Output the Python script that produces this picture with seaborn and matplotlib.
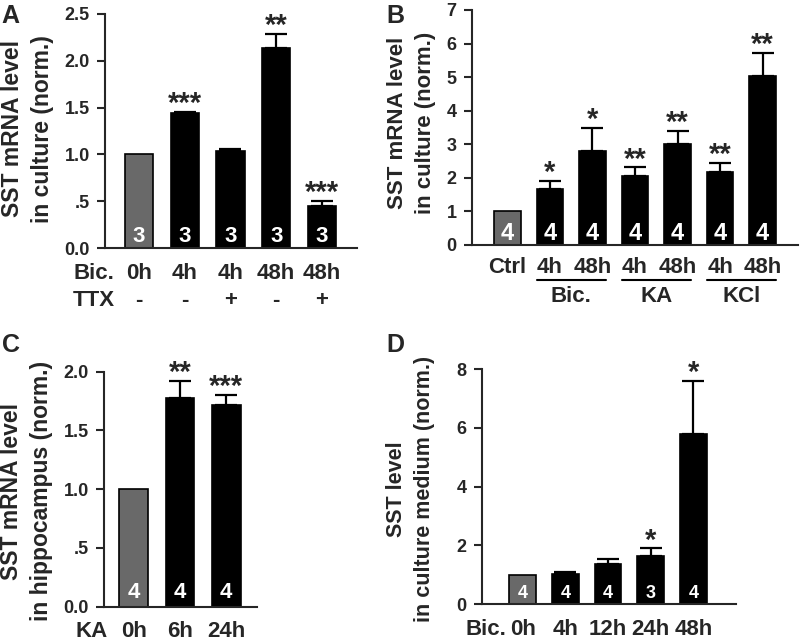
import numpy as np
import pandas as pd
import matplotlib
matplotlib.use('Agg')
import matplotlib.pyplot as plt
import matplotlib.transforms as mtransforms
import seaborn as sns

# ---- data ----
# A: SST mRNA in culture, Bic. +/- TTX
a_keys = ['Bic 0h', 'Bic 4h', 'Bic 4h TTX', 'Bic 48h', 'Bic 48h TTX']
a_bic = ['0h', '4h', '4h', '48h', '48h']
a_ttx = ['-', '-', '+', '-', '+']
a_mean = [1.0, 1.44, 1.04, 2.14, 0.45]
a_err = [0.0, 0.01, 0.02, 0.15, 0.05]
a_n = [3, 3, 3, 3, 3]
a_star = ['', '***', '', '**', '***']

# B: SST mRNA in culture, different stimuli
b_keys = ['Ctrl', 'Bic 4h', 'Bic 48h', 'KA 4h', 'KA 48h', 'KCl 4h', 'KCl 48h']
b_labels = ['Ctrl', '4h', '48h', '4h', '48h', '4h', '48h']
b_mean = [1.0, 1.67, 2.80, 2.05, 3.0, 2.16, 5.03]
b_err = [0.0, 0.24, 0.69, 0.26, 0.40, 0.29, 0.70]
b_n = [4, 4, 4, 4, 4, 4, 4]
b_star = ['', '*', '*', '**', '**', '**', '**']
b_groups = ['Bic.', 'KA', 'KCl']

# C: SST mRNA in hippocampus after KA
c_labels = ['0h', '6h', '24h']
c_mean = [1.0, 1.78, 1.72]
c_err = [0.0, 0.14, 0.08]
c_n = [4, 4, 4]
c_star = ['', '**', '***']

# D: SST in culture medium after Bic.
d_labels = ['0h', '4h', '12h', '24h', '48h']
d_mean = [1.0, 1.02, 1.35, 1.64, 5.78]
d_err = [0.0, 0.08, 0.17, 0.25, 1.80]
d_n = [4, 4, 4, 3, 4]
d_star = ['', '', '', '*', '*']

GREY = '#696969'
NARROW = ['Liberation Sans Narrow', 'Liberation Sans', 'DejaVu Sans']
WIDE = ['Liberation Sans', 'DejaVu Sans']

sns.set_style('ticks')
plt.rcParams['font.family'] = WIDE
plt.rcParams['font.weight'] = 'bold'
plt.rcParams['axes.linewidth'] = 1.5

fig = plt.figure(figsize=(8, 6.41), dpi=100)


def draw_panel(rect, keys, labels, mean, err, n, star, yticks, yticklabels,
               ylabel, ylab_xy, xpad, nfs, nbase, xfs, ylfs=16.5):
    ax = fig.add_axes(rect)
    df = pd.DataFrame({'key': keys, 'value': mean})
    pal = {k: (GREY if i == 0 else 'black') for i, k in enumerate(keys)}
    sns.barplot(data=df, x='key', y='value', hue='key', palette=pal,
                legend=False, errorbar=None, width=0.62, edgecolor='black',
                linewidth=1.2, saturation=1, ax=ax)
    xs = np.array([p.get_x() + p.get_width() / 2 for p in ax.patches])
    m = np.array(mean)
    e = np.array(err)
    sel = e > 0
    ax.errorbar(xs[sel], m[sel], yerr=[np.zeros(sel.sum()), e[sel]], fmt='none',
                ecolor='black', elinewidth=1.6, capsize=8, capthick=1.6, zorder=1)
    for x, v, er, s, k in zip(xs, m, e, star, n):
        if s:
            ax.annotate(s, xy=(x, v + er), xytext=(0, 0), textcoords='offset points',
                        ha='center', va='baseline', fontsize=21, fontweight='bold')
        ax.annotate(str(k), xy=(x, 0), xytext=(0, nbase), textcoords='offset points',
                    ha='center', va='baseline', color='white', fontsize=nfs,
                    fontweight='bold', family=NARROW)
    ax.set_yticks(yticks)
    ax.set_yticklabels(yticklabels, fontsize=13, fontweight='bold')
    ax.set_ylim(yticks[0], yticks[-1])
    ax.set_xticks(xs)
    ax.set_xticklabels(labels, fontsize=xfs, fontweight='bold', family=NARROW)
    ax.tick_params(axis='x', length=0, pad=xpad)
    ax.tick_params(axis='y', length=6, width=1.5, pad=5, direction='out')
    ax.set_xlabel('')
    ax.set_ylabel(ylabel, fontsize=ylfs, fontweight='bold', family=NARROW,
                  va='center', linespacing=1.4)
    ax.yaxis.set_label_coords(*ylab_xy)
    sns.despine(ax=ax)
    return ax, xs


# panel A
axA, xsA = draw_panel([0.13125, 0.6131, 0.315, 0.3651], a_keys, a_bic, a_mean, a_err,
                      a_n, a_star, [0, 0.5, 1.0, 1.5, 2.0, 2.5],
                      ['0.0', '.5', '1.0', '1.5', '2.0', '2.5'],
                      'SST mRNA level\nin culture (norm.)', (-0.307, 0.51),
                      11, 16, 4.3, 16)
axA.set_xlim(-0.744, 4.766)
axA.annotate('Bic.', xy=(-0.044, 0), xycoords='axes fraction', xytext=(0, -11),
             textcoords='offset points', ha='center', va='top', fontsize=16,
             fontweight='bold', family=NARROW)
axA.annotate('TTX', xy=(-0.044, 0), xycoords='axes fraction', xytext=(0, -30.5),
             textcoords='offset points', ha='center', va='top', fontsize=16,
             fontweight='bold', family=NARROW)
for x, t in zip(xsA, a_ttx):
    axA.annotate(t, xy=(x, 0), xycoords=('data', 'axes fraction'), xytext=(0, -30.5),
                 textcoords='offset points', ha='center', va='top', fontsize=16,
                 fontweight='bold', family=NARROW)

# panel B
axB, xsB = draw_panel([0.59, 0.6178, 0.4075, 0.3666], b_keys, b_labels, b_mean, b_err,
                      b_n, b_star, list(range(8)), [str(i) for i in range(8)],
                      'SST mRNA level\nin culture (norm.)', (-0.186, 0.52),
                      8.5, 17, 3.4, 16, ylfs=16)
axB.set_xlim(-0.83, 6.83)
trB = mtransforms.blended_transform_factory(axB.transData, axB.transAxes)
half = axB.patches[0].get_width() / 2
for g, name in enumerate(b_groups):
    i0, i1 = 1 + 2 * g, 2 + 2 * g
    x0, x1 = xsB[i0] - half, xsB[i1] + half
    axB.plot([x0, x1], [-0.149, -0.149], transform=trB, color='black', lw=1.5,
             clip_on=False)
    axB.annotate(name, xy=((x0 + x1) / 2, 0), xycoords=('data', 'axes fraction'),
                 xytext=(0, -29.5), textcoords='offset points', ha='center', va='top',
                 fontsize=16, fontweight='bold', family=NARROW)

# panel C
axC, xsC = draw_panel([0.13, 0.0535, 0.19125, 0.3666], c_labels, c_labels, c_mean, c_err,
                      c_n, c_star, [0, 0.5, 1.0, 1.5, 2.0],
                      ['0.0', '.5', '1.0', '1.5', '2.0'],
                      'SST mRNA level\nin hippocampus (norm.)', (-0.507, 0.492),
                      10, 16, 6.5, 16)
axC.set_xlim(-0.645, 2.667)
axC.annotate('KA', xy=(-0.082, 0), xycoords='axes fraction', xytext=(0, -10),
             textcoords='offset points', ha='center', va='top', fontsize=16,
             fontweight='bold', family=NARROW)

# panel D
axD, xsD = draw_panel([0.6025, 0.0577, 0.3175, 0.3666], d_labels, d_labels, d_mean, d_err,
                      d_n, d_star, [0, 2, 4, 6, 8], ['0', '2', '4', '6', '8'],
                      'SST level\nin culture medium (norm.)', (-0.281, 0.49),
                      11, 13, 4.5, 16, ylfs=15.5)
axD.set_xlim(-0.954, 5.0)
axD.annotate('Bic.', xy=(0.016, 0), xycoords='axes fraction', xytext=(0, -11),
             textcoords='offset points', ha='center', va='top', fontsize=16,
             fontweight='bold', family=NARROW)

# panel letters
for letter, x, y in [('A', 0.002, 0.9646), ('B', 0.483, 0.9646),
                     ('C', 0.002, 0.4509), ('D', 0.483, 0.4509)]:
    fig.text(x, y, letter, fontsize=18, fontweight='bold', va='baseline', ha='left')

fig.savefig('out.png', dpi=100)
